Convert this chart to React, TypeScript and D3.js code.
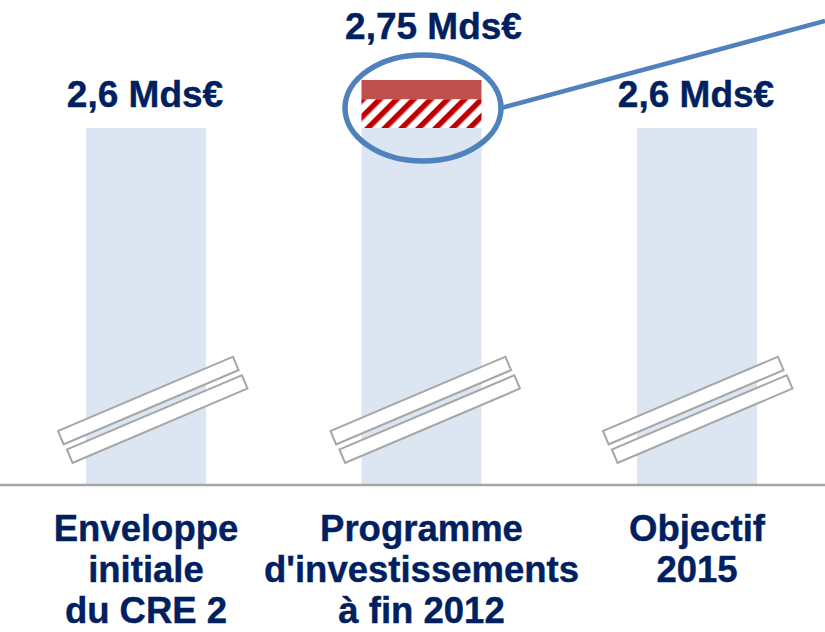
import React from 'react'
import * as d3 from 'd3'

// categories and values (Md€)
const categories = ['CRE2', 'PI2012', 'OBJ2015']
const categoryLines = [
  ['Enveloppe', 'initiale', 'du CRE 2'],
  ['Programme', "d'investissements", 'à fin 2012'],
  ['Objectif', '2015'],
]
const baseValues = [2.6, 2.6, 2.6]
const hatchedTop = [null, 2.69, null]
const totalValues = [2.6, 2.75, 2.6]
const valueLabels = ['2,6 Mds€', '2,75 Mds€', '2,6 Mds€']
const highlighted = 1

const W = 825
const H = 632
const BASE_Y = 484
const BAR_W = 120
const NAVY = '#002060'
const FONT = '"Liberation Sans", Arial, Helvetica, sans-serif'

export default function App() {
  const x = d3.scalePoint<string>().domain(categories).range([146, 697])
  // axis is broken: only the top of the scale is shown to size
  const y = d3.scaleLinear().domain([2.3, 2.75]).range([224, 80])

  const breakAt = (cx: number, i: number) =>
    `translate(${cx - 88 - i * 3},${BASE_Y - 53}) rotate(-23)`

  return (
    <svg width={W} height={H} style={{ position: 'absolute', left: 0, top: 0 }}>
      <defs>
        <pattern id="hatch" width="12" height="12" patternUnits="userSpaceOnUse" patternTransform="rotate(45)">
          <rect width="12" height="12" fill="#fff" />
          <rect width="5.5" height="12" fill="#C00000" />
        </pattern>
      </defs>

      {categories.map((c, i) => {
        const cx = x(c)!
        const top = y(baseValues[i])
        return (
          <g key={c}>
            <rect x={cx - BAR_W / 2} y={top} width={BAR_W} height={BASE_Y - top} fill="#DCE6F2" />
            {hatchedTop[i] != null && (
              <>
                <rect x={cx - BAR_W / 2} y={y(hatchedTop[i]!)} width={BAR_W}
                  height={top - y(hatchedTop[i]!)} fill="url(#hatch)" />
                <rect x={cx - BAR_W / 2} y={y(totalValues[i])} width={BAR_W}
                  height={y(hatchedTop[i]!) - y(totalValues[i])} fill="#C0504D" />
              </>
            )}
            <g transform={breakAt(cx, i)} fill="#fff" stroke="#A6A6A6" strokeWidth={2}>
              <rect x={0} y={0} width={190} height={14.5} />
              <rect x={1} y={20.5} width={190} height={14.5} />
            </g>
          </g>
        )
      })}

      <line x1={0} x2={W} y1={BASE_Y + 1} y2={BASE_Y + 1} stroke="#A6A6A6" strokeWidth={2.5} />

      {(() => {
        const cx = x(categories[highlighted])! + 1.5
        const cy = (y(totalValues[highlighted]) + y(baseValues[highlighted])) / 2 + 4
        const rx = 78
        const ry = 53
        return (
          <g>
            <ellipse cx={cx} cy={cy} rx={rx} ry={ry} fill="none" stroke="#4F81BD" strokeWidth={5.5} />
            <line x1={cx + rx} y1={cy} x2={W} y2={21} stroke="#4F81BD" strokeWidth={4.5} />
          </g>
        )
      })()}

      {categories.map((c, i) => {
        const cx = x(c)!
        const isHi = i === highlighted
        const ty = isHi ? y(totalValues[i]) - 41 : y(totalValues[i]) - 21
        return (
          <text key={'v' + c} x={cx + (isHi ? 12 : -1)} y={ty} textAnchor="middle"
            fontFamily={FONT} fontWeight="bold" fontSize={37} fill={NAVY}
            stroke={NAVY} strokeWidth={0.4}>
            {valueLabels[i]}
          </text>
        )
      })}

      {categories.map((c, i) => (
        <text key={'c' + c} textAnchor="middle" fontFamily={FONT} fontWeight="bold"
          fontSize={36.5} fill={NAVY} stroke={NAVY} strokeWidth={0.4}>
          {categoryLines[i].map((ln, j) => (
            <tspan key={j} x={x(c)!} y={BASE_Y + 57 + j * 41}>{ln}</tspan>
          ))}
        </text>
      ))}
    </svg>
  )
}
